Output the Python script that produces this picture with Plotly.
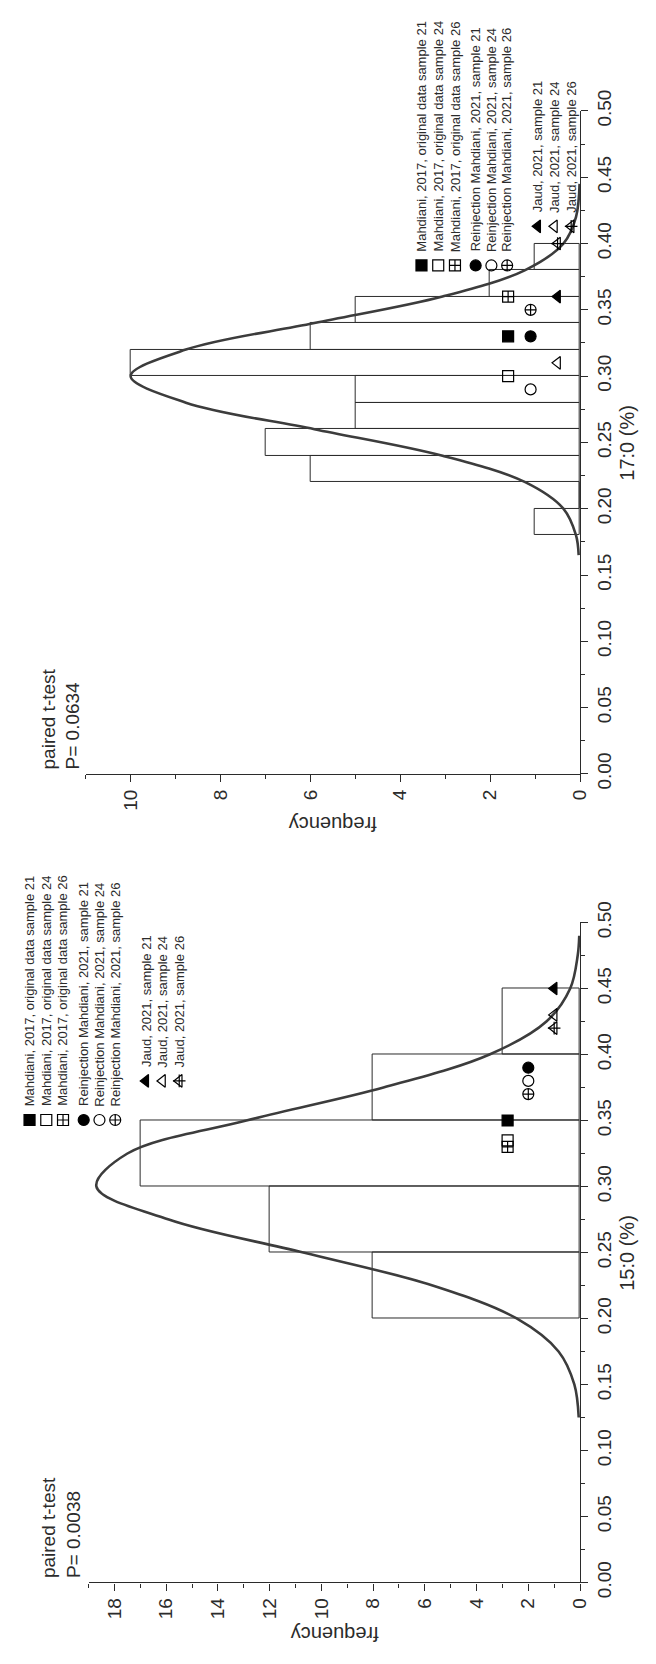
import plotly.graph_objects as go

W, H = 656, 1664

# ---------------- data ----------------
series_names = [
    "Mahdiani, 2017, original data sample 21",
    "Mahdiani, 2017, original data sample 24",
    "Mahdiani, 2017, original data sample 26",
    "Reinjection Mahdiani, 2021, sample 21",
    "Reinjection Mahdiani, 2021, sample 24",
    "Reinjection Mahdiani, 2021, sample 26",
    "Jaud, 2021, sample 21",
    "Jaud, 2021, sample 24",
    "Jaud, 2021, sample 26",
]

# 15:0 panel
edges_15 = [0.20, 0.25, 0.30, 0.35, 0.40, 0.45]
counts_15 = [8, 12, 17, 8, 3]
fit_x_15 = [0.125, 0.15, 0.175, 0.20, 0.225, 0.25, 0.275, 0.30, 0.325, 0.35, 0.375, 0.40, 0.425, 0.45, 0.475, 0.49]
fit_f_15 = [0.05, 0.22, 0.83, 2.45, 5.7, 10.7, 15.9, 18.7, 17.5, 12.9, 7.6, 3.5, 1.3, 0.38, 0.09, 0.03]
values_15 = [0.35, 0.335, 0.33, 0.39, 0.38, 0.37, 0.45, 0.43, 0.42]
levels_15 = [2.8, 2.8, 2.8, 2.0, 2.0, 2.0, 1.0, 1.0, 1.0]
pvalue_15 = "P= 0.0038"

# 17:0 panel
edges_17 = [0.18, 0.20, 0.22, 0.24, 0.26, 0.28, 0.30, 0.32, 0.34, 0.36, 0.38, 0.40]
counts_17 = [1, 0, 6, 7, 5, 5, 10, 6, 5, 2, 1]
fit_x_17 = [0.165, 0.18, 0.20, 0.22, 0.24, 0.26, 0.28, 0.30, 0.32, 0.34, 0.36, 0.38, 0.40, 0.42, 0.445]
fit_f_17 = [0.03, 0.09, 0.37, 1.22, 3.06, 5.91, 8.77, 10.0, 8.77, 5.91, 3.06, 1.22, 0.37, 0.09, 0.01]
values_17 = [0.33, 0.30, 0.36, 0.33, 0.29, 0.35, 0.36, 0.31, 0.40]
levels_17 = [1.6, 1.6, 1.6, 1.1, 1.1, 1.1, 0.5, 0.5, 0.5]
pvalue_17 = "P= 0.0634"

freq_ticks_15 = [0, 2, 4, 6, 8, 10, 12, 14, 16, 18]
freq_ticks_17 = [0, 2, 4, 6, 8, 10]

# ---------------- styling ----------------
FONT = "Arial, Liberation Sans, sans-serif"
INK = "#2b2b2b"
symbols = ["square", "square-open", "square-cross-open",
           "circle", "circle-open", "circle-cross-open",
           "triangle-left", "triangle-left-open", "triangle-left-open"]
with_cross = [False] * 8 + [True]


def px(x):
    return x / W


def py(y):
    return 1 - y / H


fig = go.Figure()


def add_panel(xa, ya, edges, counts, fx, ff, vals, levels):
    centers = [(a + b) / 2 for a, b in zip(edges[:-1], edges[1:])]
    widths = [b - a for a, b in zip(edges[:-1], edges[1:])]
    fig.add_trace(go.Bar(
        orientation="h", y=centers, x=counts, width=widths,
        marker=dict(color="rgba(255,255,255,0)", line=dict(color=INK, width=1)),
        xaxis=xa, yaxis=ya, hoverinfo="skip"))
    fig.add_trace(go.Scatter(
        x=ff, y=fx, mode="lines", line=dict(color="#3c3c3c", width=2.6, shape="spline"),
        xaxis=xa, yaxis=ya, hoverinfo="skip"))
    for i in range(len(vals)):
        fig.add_trace(go.Scatter(
            x=[levels[i]], y=[vals[i]], mode="markers",
            marker=dict(symbol=symbols[i], size=11, color="black",
                        line=dict(color="black", width=1.2)),
            xaxis=xa, yaxis=ya, cliponaxis=False, hoverinfo="skip"))
        if with_cross[i]:
            fig.add_trace(go.Scatter(
                x=[levels[i]], y=[vals[i]], mode="markers",
                marker=dict(symbol="cross-thin-open", size=9, color="black",
                            line=dict(color="black", width=1.2)),
                xaxis=xa, yaxis=ya, cliponaxis=False, hoverinfo="skip"))


add_panel("x", "y", edges_15, counts_15, fit_x_15, fit_f_15, values_15, levels_15)
add_panel("x2", "y2", edges_17, counts_17, fit_x_17, fit_f_17, values_17, levels_17)

# geometry (pixels)
bottom_panel = dict(left=90, right=589, top=922, bottom=1597)
top_panel = dict(left=87, right=589, top=92, bottom=770)

tickfont = dict(family=FONT, size=19, color=INK)


def freq_axis(panel, yanchor, fmax, ticks):
    return dict(domain=[px(panel["left"]), px(panel["right"])], anchor=yanchor,
                range=[fmax, 0], side="bottom", showline=True, linecolor=INK, linewidth=1.3,
                ticks="outside", ticklen=7, tickwidth=1.2, tickcolor=INK,
                tickvals=ticks, tickangle=-90, tickfont=tickfont,
                minor=dict(ticks="outside", ticklen=4, tickwidth=1.2, tickcolor=INK, dtick=1, tick0=0),
                showgrid=False, zeroline=False, fixedrange=True)


def val_axis(panel, xanchor):
    return dict(domain=[py(panel["bottom"]), py(panel["top"])], anchor=xanchor,
                range=[0, 0.5], side="right", showline=True, linecolor=INK, linewidth=1.3,
                ticks="outside", ticklen=7, tickwidth=1.2, tickcolor=INK,
                dtick=0.05, tick0=0, tickformat=".2f", tickangle=-90, tickfont=tickfont,
                minor=dict(ticks="outside", ticklen=4, tickwidth=1.2, tickcolor=INK, dtick=0.025, tick0=0),
                showgrid=False, zeroline=False, fixedrange=True)


fig.update_layout(
    width=W, height=H, autosize=False,
    margin=dict(l=0, r=0, t=0, b=0),
    paper_bgcolor="white", plot_bgcolor="rgba(0,0,0,0)",
    showlegend=False, barmode="overlay", bargap=0,
    xaxis=freq_axis(bottom_panel, "y", 19, freq_ticks_15),
    yaxis=val_axis(bottom_panel, "x"),
    xaxis2=freq_axis(top_panel, "y2", 11, freq_ticks_17),
    yaxis2=val_axis(top_panel, "x2"),
    xaxis3=dict(domain=[0, 1], range=[0, W], visible=False, anchor="y3", fixedrange=True),
    yaxis3=dict(domain=[0, 1], range=[H, 0], visible=False, anchor="x3", fixedrange=True),
)

annotations = []


def text(x, y, s, size, angle, xanchor="center", yanchor="middle", align="left"):
    annotations.append(dict(x=px(x), y=py(y), xref="paper", yref="paper", text=s,
                            showarrow=False, textangle=angle, xanchor=xanchor, yanchor=yanchor,
                            align=align, font=dict(family=FONT, size=size, color=INK)))


for panel, title, pval in [(bottom_panel, "15:0 (%)", pvalue_15), (top_panel, "17:0 (%)", pvalue_17)]:
    cx = (panel["left"] + panel["right"]) / 2
    cy = (panel["top"] + panel["bottom"]) / 2
    text(637, cy, title, 20, -90)
    text(cx, panel["bottom"] + 52, "frequency", 20, 180)
    text(62, panel["bottom"] - 2, "paired t-test<br>" + pval, 19, -90, yanchor="bottom")

# legends (pixel layout)
legend_layouts = [
    dict(rows=[30, 47, 64, 85, 101, 117, 148, 165, 182], sym_y=[1124] * 6 + [1084] * 3,
         txt_y=[1112] * 6 + [1072] * 3),
    dict(rows=[428, 445, 462, 483, 499, 515, 546, 563, 580], sym_y=[250] * 6 + [210] * 3,
         txt_y=[238] * 6 + [198] * 3),
]
for lay in legend_layouts:
    for i, name in enumerate(series_names):
        fig.add_trace(go.Scatter(
            x=[lay["rows"][i]], y=[lay["sym_y"][i]], mode="markers",
            marker=dict(symbol=symbols[i], size=11, color="black", line=dict(color="black", width=1.2)),
            xaxis="x3", yaxis="y3", cliponaxis=False, hoverinfo="skip"))
        if with_cross[i]:
            fig.add_trace(go.Scatter(
                x=[lay["rows"][i]], y=[lay["sym_y"][i]], mode="markers",
                marker=dict(symbol="cross-thin-open", size=9, color="black", line=dict(color="black", width=1.2)),
                xaxis="x3", yaxis="y3", cliponaxis=False, hoverinfo="skip"))
        text(lay["rows"][i], lay["txt_y"][i], name, 13, -90, yanchor="bottom")

fig.update_layout(annotations=annotations)
fig.write_html("out.html")
